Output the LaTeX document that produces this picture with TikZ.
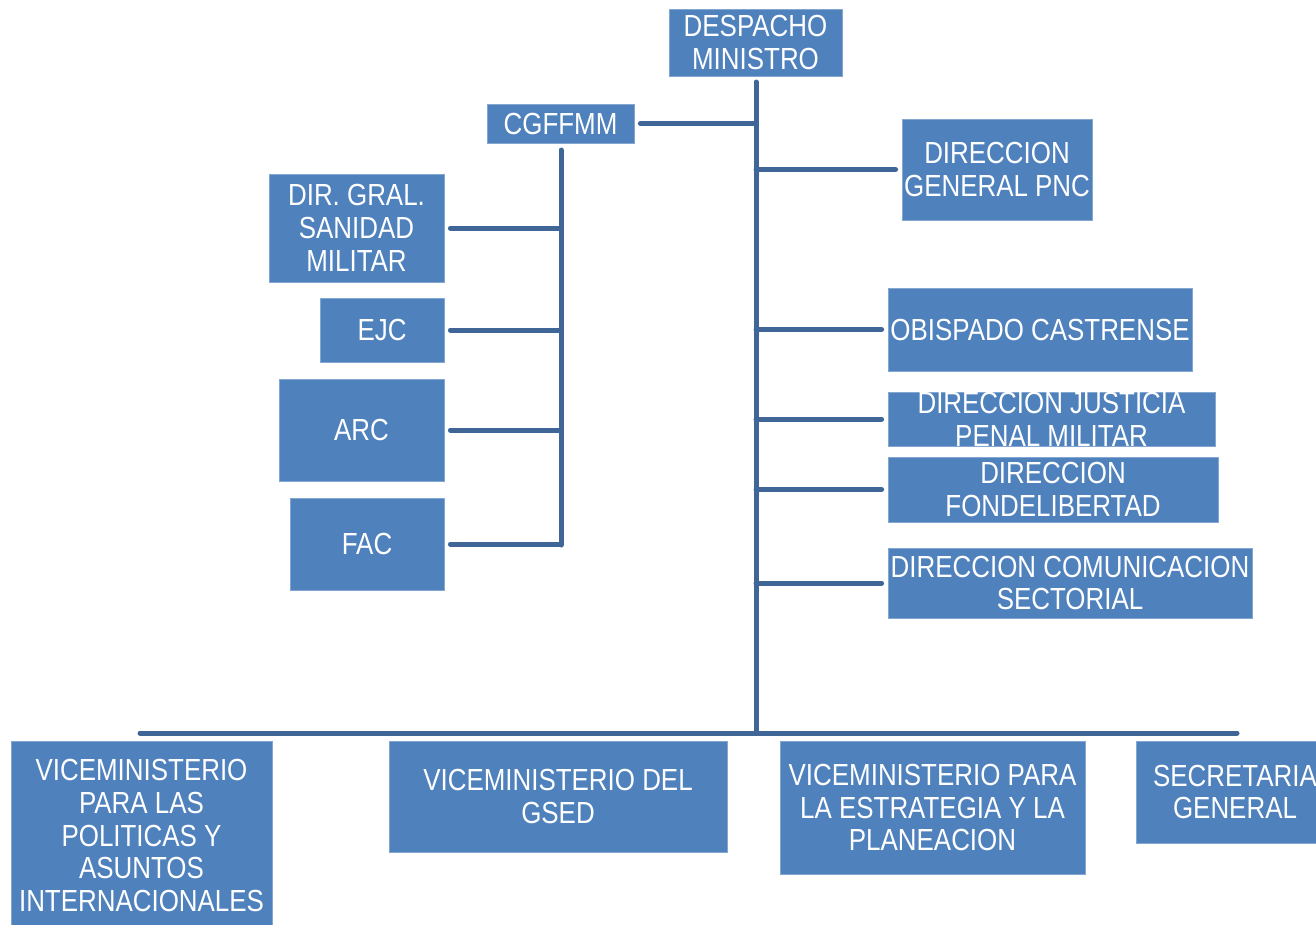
\documentclass[tikz,border=0pt]{standalone}
\usepackage{fontspec}
\setmainfont{Liberation Sans}[FakeStretch=0.85]
\usepackage{xcolor}
\definecolor{boxblue}{HTML}{4F81BD}
\definecolor{linkblue}{HTML}{3F6697}
\usetikzlibrary{calc}

\begin{document}
\begin{tikzpicture}[x=1pt,y=-1pt,
  unit/.style={fill=boxblue,draw=boxblue!70!white,line width=0.8pt,text=white,
    inner sep=0pt,align=center,font=\fontsize{30.5}{32.8}\selectfont},
  link/.style={draw=linkblue,line width=5pt,line cap=round,line join=round}]
\useasboundingbox (0,0) rectangle (1316,924);
\node[unit,minimum width=173pt,minimum height=67pt] (despacho) at (755.5,42.5) {DESPACHO\\MINISTRO};
\node[unit,minimum width=147pt,minimum height=39pt] (cgffmm) at (560.5,123.5) {CGFFMM};
\node[unit,minimum width=175pt,minimum height=108pt] (sanidad) at (356.5,228) {DIR. GRAL.\\SANIDAD\\MILITAR};
\node[unit,minimum width=124pt,minimum height=64pt] (ejc) at (382,330) {EJC};
\node[unit,minimum width=165pt,minimum height=102pt] (arc) at (361.5,430) {ARC};
\node[unit,minimum width=154pt,minimum height=92pt] (fac) at (367,544) {FAC};
\node[unit,minimum width=190pt,minimum height=101pt] (pnc) at (997,169.5) {DIRECCION\\GENERAL PNC};
\node[unit,minimum width=304pt,minimum height=83pt] (obispado) at (1040,329.5) {OBISPADO CASTRENSE};
\node[unit,minimum width=327pt,minimum height=54pt] (justicia) at (1051.5,419) {DIRECCION JUSTICIA\\PENAL MILITAR};
\node[unit,minimum width=330pt,minimum height=65pt] (fondo) at (1053,489.5) {DIRECCION\\FONDELIBERTAD};
\node[unit,minimum width=364pt,minimum height=70pt] (comunica) at (1070,583) {DIRECCION COMUNICACION\\SECTORIAL};
\node[unit,minimum width=261pt,minimum height=189pt] (vpai) at (141.5,835.5) {VICEMINISTERIO\\PARA LAS\\POLITICAS Y\\ASUNTOS\\INTERNACIONALES};
\node[unit,minimum width=338pt,minimum height=111pt] (gsed) at (558,796.5) {VICEMINISTERIO DEL\\GSED};
\node[unit,minimum width=305pt,minimum height=133pt] (vpep) at (932.5,807.5) {VICEMINISTERIO PARA\\LA ESTRATEGIA Y LA\\PLANEACION};
\node[unit,minimum width=198pt,minimum height=102pt] (secgen) at (1235,792) {SECRETARIA\\GENERAL};
\coordinate (top) at (756,82);
\coordinate (bus) at (756,733);
\coordinate (busl) at (140,733);
\coordinate (busr) at (1237,733);
\coordinate (ctop) at (561,150);
\coordinate (cbot) at (561,545);
\draw[link] (top) -- (bus);
\draw[link] (busl) -- (busr);
\draw[link] ([xshift=6pt]cgffmm.east) -- (cgffmm.east -| top);
\draw[link] (ctop) -- (cbot);
\foreach \n in {sanidad,ejc,arc,fac}
  \draw[link] ([xshift=6pt]\n.east) -- (\n.east -| ctop);
\foreach \n in {pnc,obispado,justicia,fondo,comunica}
  \draw[link] ([xshift=-6pt]\n.west) -- (\n.west -| top);
\end{tikzpicture}
\end{document}
